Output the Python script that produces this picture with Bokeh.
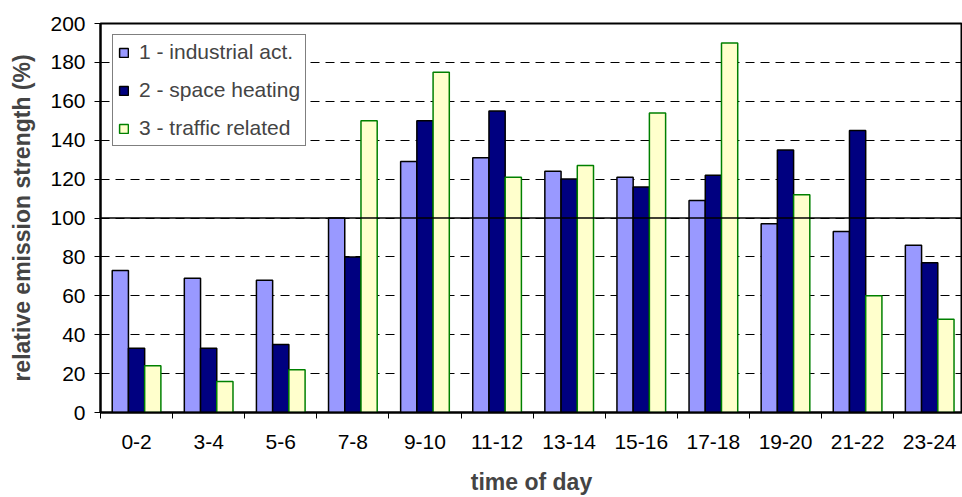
from bokeh.plotting import figure
from bokeh.models import (Range1d, FixedTicker, Span, ColumnDataSource,
                          Legend, LegendItem)
from bokeh.transform import dodge
from bokeh.embed import file_html
from bokeh.resources import INLINE

# Relative emission strength (%) by two-hour period of the day
periods = ["0-2", "3-4", "5-6", "7-8", "9-10", "11-12", "13-14", "15-16",
           "17-18", "19-20", "21-22", "23-24"]
industrial = [73, 69, 68, 100, 129, 131, 124, 121, 109, 97, 93, 86]
space_heating = [33, 33, 35, 80, 150, 155, 120, 116, 122, 135, 145, 77]
traffic = [24, 16, 22, 150, 175, 121, 127, 154, 190, 112, 60, 48]
series_names = ["1 - industrial act.", "2 - space heating", "3 - traffic related"]
y_ticks = [0, 20, 40, 60, 80, 100, 120, 140, 160, 180, 200]

FONT = "Liberation Sans"
centers = [i + 0.5 for i in range(len(periods))]
bounds = list(range(len(periods) + 1))

p = figure(width=962, height=497, output_backend="svg", toolbar_location=None,
           x_range=Range1d(0, 11.955), y_range=Range1d(0, 200),
           min_border_left=100, min_border_right=0, min_border_top=23,
           min_border_bottom=84)
p.background_fill_color = "white"
p.border_fill_color = "white"
p.outline_line_color = "black"
p.outline_line_width = 2

src = ColumnDataSource(dict(x=centers, ind=industrial, heat=space_heating,
                            traf=traffic))
bw = 0.225
r1 = p.vbar(x=dodge("x", -bw, range=p.x_range), top="ind", width=bw,
            source=src, fill_color="#9999FF", line_color="black", line_width=1.5)
r2 = p.vbar(x=dodge("x", 0, range=p.x_range), top="heat", width=bw,
            source=src, fill_color="#000080", line_color="black", line_width=1.5)
r3 = p.vbar(x=dodge("x", bw, range=p.x_range), top="traf", width=bw,
            source=src, fill_color="#FFFFCC", line_color="#008000", line_width=1.5)

# reference line at 100 %
p.add_layout(Span(location=100, dimension="width", line_color="black",
                  line_width=1.5))

# dashed horizontal grid behind the bars
p.xgrid.visible = False
p.ygrid.ticker = FixedTicker(ticks=y_ticks)
p.ygrid.grid_line_color = "black"
p.ygrid.grid_line_dash = "9 6"
p.ygrid.grid_line_width = 1

# x axis: labels at period centres, tick marks at period boundaries
xa = p.xaxis[0]
xa.ticker = FixedTicker(ticks=centers, minor_ticks=bounds)
xa.major_label_overrides = {c: lab for c, lab in zip(centers, periods)}
xa.major_tick_line_color = None
xa.major_tick_out = 0
xa.major_tick_in = 0
xa.minor_tick_out = 6
xa.minor_tick_in = 0
xa.minor_tick_line_color = "black"
xa.minor_tick_line_width = 1
xa.axis_line_width = 2
xa.major_label_standoff = 16
xa.major_label_text_font = FONT
xa.major_label_text_font_size = "21px"
xa.major_label_text_color = "black"
xa.axis_label = "time of day"
xa.axis_label_text_font = FONT
xa.axis_label_text_font_style = "bold"
xa.axis_label_text_font_size = "23px"
xa.axis_label_standoff = 17

ya = p.yaxis[0]
ya.ticker = FixedTicker(ticks=y_ticks)
ya.major_tick_out = 6
ya.major_tick_in = 0
ya.minor_tick_line_color = None
ya.axis_line_width = 2
ya.major_label_standoff = 9
ya.major_label_text_font = FONT
ya.major_label_text_font_size = "21px"
ya.major_label_text_color = "black"
ya.axis_label = "relative emission strength (%)"
ya.axis_label_text_font = FONT
ya.axis_label_text_font_style = "bold"
ya.axis_label_text_font_size = "23px"
ya.axis_label_standoff = 12

legend = Legend(items=[LegendItem(label=n, renderers=[r])
                       for n, r in zip(series_names, [r1, r2, r3])],
                location=(12, 266))
legend.glyph_width = 11
legend.glyph_height = 11
legend.label_text_font = FONT
legend.label_text_font_size = "21px"
legend.label_standoff = 10
legend.label_height = 22
legend.spacing = 14
legend.padding = 5
legend.margin = 0
legend.border_line_color = "black"
legend.border_line_width = 1
legend.background_fill_color = "white"
legend.background_fill_alpha = 1
p.add_layout(legend)

open("out.html", "w").write(file_html(p, INLINE))
